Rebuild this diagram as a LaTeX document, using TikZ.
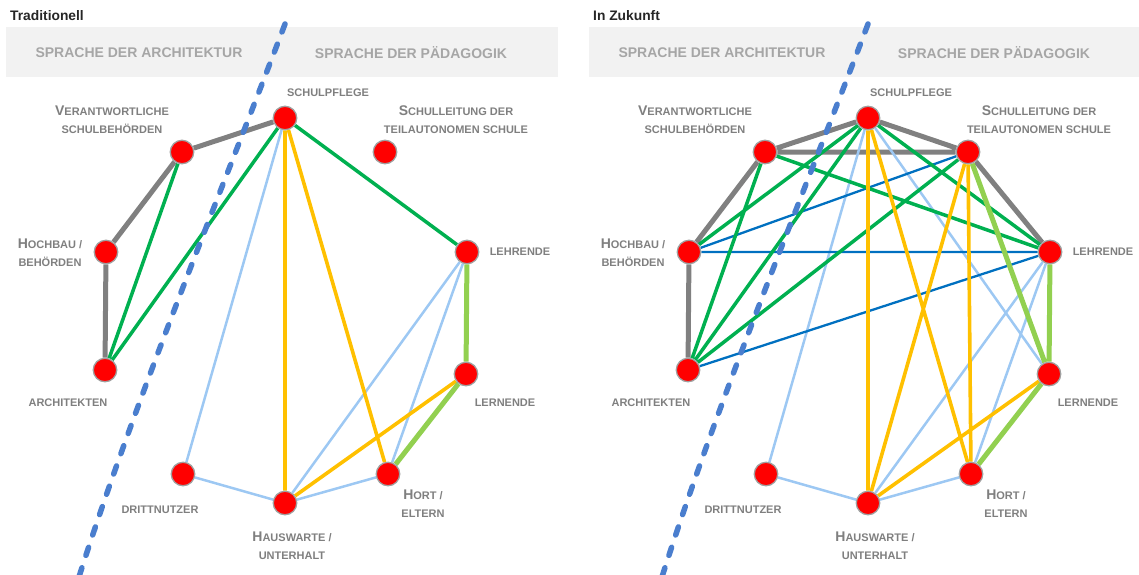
\documentclass[tikz,border=0pt]{standalone}
\usepackage{fontspec}
\setmainfont{Liberation Sans}
\usetikzlibrary{backgrounds}

\definecolor{bandgray}{HTML}{F2F2F2}
\definecolor{headgray}{HTML}{A6A6A6}
\definecolor{labgray}{HTML}{7F7F7F}
\definecolor{titlecol}{HTML}{262626}
\definecolor{linkgray}{HTML}{808080}
\definecolor{linkgreen}{HTML}{00B050}
\definecolor{linkyellow}{HTML}{FFC000}
\definecolor{linklightblue}{RGB}{157,200,243}
\definecolor{linklightgreen}{HTML}{92D050}
\definecolor{linkblue}{HTML}{0070C0}
\definecolor{dividerblue}{RGB}{74,126,206}
\definecolor{dotred}{HTML}{FF0000}
\definecolor{dotrim}{HTML}{A0A0A0}

% larger initial capital for the small-caps style labels
\newcommand\Cap[1]{{\fontsize{14}{18}\selectfont #1}}

\tikzset{
  dot/.style={circle, inner sep=0pt, minimum size=23.5pt, fill=dotred, draw=dotrim, line width=1.3pt},
  lab/.style={text=labgray, font=\fontsize{11}{18}\selectfont\bfseries, align=center, inner sep=0pt},
  headtext/.style={text=headgray, font=\fontsize{14}{16}\selectfont\bfseries, inner sep=0pt},
  paneltitle/.style={text=titlecol, font=\fontsize{13.8}{16}\selectfont\bfseries, anchor=west, inner sep=0pt},
  band/.style={fill=bandgray, draw=none},
  divider/.style={dividerblue, line width=5.5pt, line cap=round, dash pattern=on 8.5pt off 13pt},
  grayl/.style={linkgray, line width=5pt},
  greenl/.style={linkgreen, line width=3.5pt},
  yellowl/.style={linkyellow, line width=3.6pt},
  lbluel/.style={linklightblue, line width=2.5pt},
  lgreenl/.style={linklightgreen, line width=5pt},
  bluel/.style={linkblue, line width=2.3pt},
}

% one panel: title, header band, stakeholder dots, labels and the divider
% #1 = title, #2 = right edge of the header band
\newcommand\stakeholderpanel[2]{%
  \node[paneltitle] (title) at (10,16) {#1};
  \path[band] (6,27) rectangle (#2,77);
  \node[headtext] (head-arch) at (139,53) {SPRACHE DER ARCHITEKTUR};
  \node[headtext] (head-paed) at (411,53) {SPRACHE DER PÄDAGOGIK};
  \node[dot] (sp) at (285,118) {};
  \node[dot] (ve) at (182,152) {};
  \node[dot] (sl) at (385,152) {};
  \node[dot] (hb) at (106,252) {};
  \node[dot] (le) at (467,252) {};
  \node[dot] (ar) at (105,370) {};
  \node[dot] (ln) at (466,374) {};
  \node[dot] (dn) at (183,474) {};
  \node[dot] (hw) at (285,503) {};
  \node[dot] (ho) at (388,474) {};
  \node[lab] (sp-t) at (328,93) {SCHULPFLEGE};
  \node[lab] (ve-t) at (112,120) {\Cap{V}ERANTWORTLICHE\\SCHULBEHÖRDEN};
  \node[lab] (sl-t) at (456,120) {\Cap{S}CHULLEITUNG DER\\TEILAUTONOMEN SCHULE};
  \node[lab] (hb-t) at (50,253) {\Cap{H}OCHBAU /\\BEHÖRDEN};
  \node[lab] (le-t) at (520,252) {LEHRENDE};
  \node[lab] (ar-t) at (68,403) {ARCHITEKTEN};
  \node[lab] (ln-t) at (505,403) {LERNENDE};
  \node[lab] (dn-t) at (160,510) {DRITTNUTZER};
  \node[lab] (hw-t) at (292,546) {\Cap{H}AUSWARTE /\\UNTERHALT};
  \node[lab] (ho-t) at (423,504) {\Cap{H}ORT /\\ELTERN};
  \draw[divider] (285,24) .. controls (228,175) and (135,400) .. (78,580);
}

\begin{document}
\begin{tikzpicture}[x=1pt, y=-1pt]
  \useasboundingbox (0,0) rectangle (1139,574);

  \begin{scope}[name prefix=L-]
    \stakeholderpanel{Traditionell}{558}
  \end{scope}
  \begin{scope}[xshift=583pt, name prefix=R-]
    \stakeholderpanel{In Zukunft}{556}
  \end{scope}

  % traditional relations
  \begin{scope}[on background layer, name prefix=L-]
    \draw[grayl] (ve) -- (sp) (ve) -- (hb) (hb) -- (ar);
    \draw[lbluel] (sp) -- (dn) (dn) -- (hw) (hw) -- (ho) (le) -- (hw) (le) -- (ho);
    \draw[greenl] (ve) -- (ar) (sp) -- (ar) (sp) -- (le);
    \draw[yellowl] (sp) -- (hw) (sp) -- (ho) (ln) -- (hw);
    \draw[lgreenl] (le) -- (ln) (ln) -- (ho);
  \end{scope}

  % future relations
  \begin{scope}[on background layer, name prefix=R-]
    \draw[grayl] (ve) -- (sp) (sp) -- (sl) (ve) -- (sl) (ve) -- (hb) (hb) -- (ar) (sl) -- (le);
    \draw[lbluel] (sp) -- (dn) (dn) -- (hw) (hw) -- (ho) (le) -- (hw) (le) -- (ho) (sp) -- (ln);
    \draw[bluel] (hb) -- (sl) (hb) -- (le) (ar) -- (le);
    \draw[greenl] (ve) -- (ar) (ve) -- (le) (sp) -- (hb) (sp) -- (ar) (sp) -- (le) (sl) -- (ar);
    \draw[yellowl] (sp) -- (hw) (sp) -- (ho) (sl) -- (hw) (sl) -- (ho) (ln) -- (hw);
    \draw[lgreenl] (sl) -- (ln) (le) -- (ln) (ln) -- (ho);
  \end{scope}
\end{tikzpicture}
\end{document}
